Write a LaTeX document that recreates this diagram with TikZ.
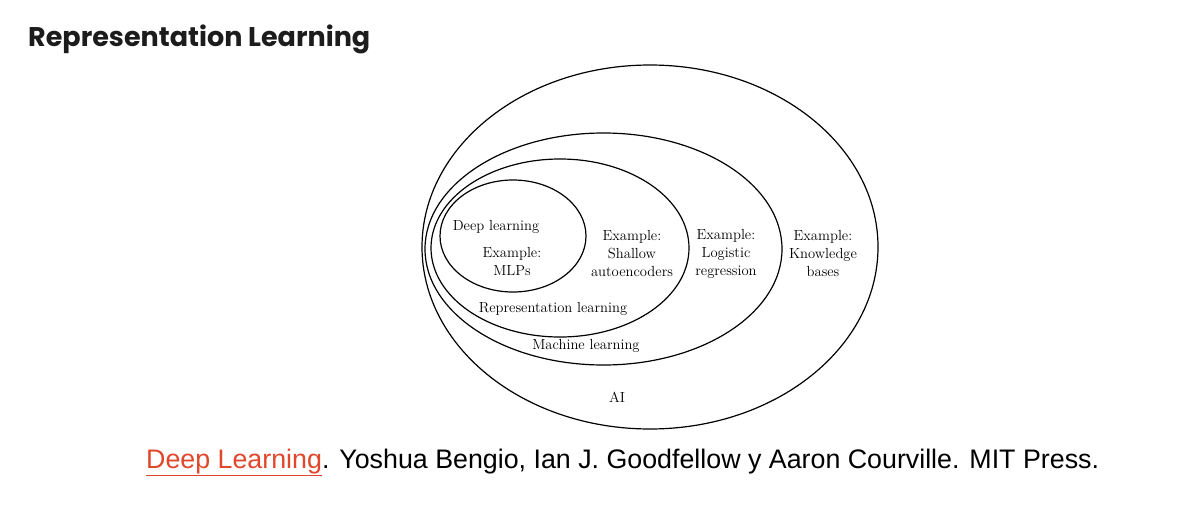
\documentclass[tikz,border=0pt]{standalone}
\usepackage{fontspec}
\usetikzlibrary{shapes.geometric}
\newfontfamily\titlefont{Poppins}
\newfontfamily\citefont{Liberation Sans}
\definecolor{linkred}{HTML}{E0472B}
\definecolor{titlegray}{HTML}{1C1C1C}
\begin{document}
\begin{tikzpicture}[x=1pt,y=-1pt,
  ring/.style={draw, ellipse, line width=1.2pt, inner sep=0pt},
  lbl/.style={align=center, font=\fontsize{14.6}{18}\selectfont, inner sep=0pt}]
\useasboundingbox (0,0) rectangle (1198,522);
\fill[white] (0,0) rectangle (1198,522);
% ellipses
\node[ring, minimum width=456pt, minimum height=364pt] (ai) at (650,247) {};
\node[ring, minimum width=357pt, minimum height=232pt] (ml) at (603.5,249) {};
\node[ring, minimum width=258pt, minimum height=178pt] (rl) at (560,248) {};
\node[ring, minimum width=146pt, minimum height=112pt] (dl) at (513,236) {};
% labels
\node[lbl] (dlname) at (496,227) {Deep learning};
\node[lbl] (dlex) at (512,262) {Example:\\MLPs};
\node[lbl] (rlex) at (632,254) {Example:\\Shallow\\autoencoders};
\node[lbl] (mlex) at (726,254) {Example:\\Logistic\\regression};
\node[lbl] (aiex) at (823,254) {Example:\\Knowledge\\bases};
\node[lbl] (rlname) at (553,309) {Representation learning};
\node[lbl] (mlname) at (586,346) {Machine learning};
\node[lbl] (ainame) at (617,397) {AI};
% title
\node[anchor=base west, inner sep=0pt, text=titlegray, font=\titlefont\bfseries\fontsize{27}{30}\selectfont] (title) at (28,46) {Representation Learning};
% citation
\node[anchor=base west, inner sep=0pt, font=\citefont\fontsize{26.8}{30}\selectfont] (cite) at (146,468) {\textcolor{linkred}{\underline{Deep Learning}}. Yoshua Bengio, Ian J. Goodfellow y Aaron Courville. MIT Press.};
\end{tikzpicture}
\end{document}
